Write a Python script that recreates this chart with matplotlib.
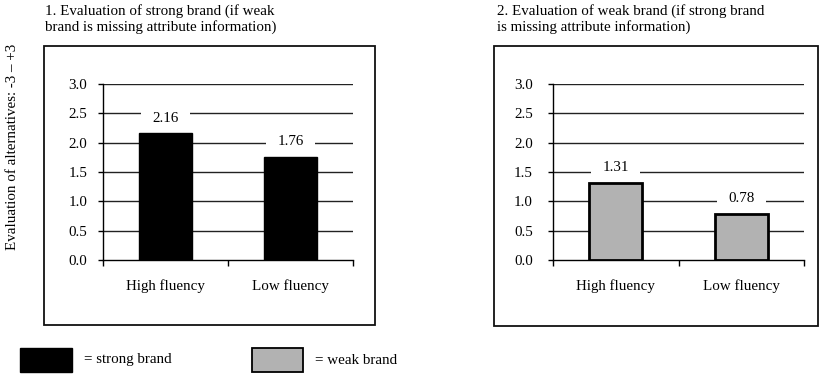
import matplotlib.pyplot as plt
from matplotlib.patches import Rectangle

plt.rcParams['font.family'] = ['Liberation Serif', 'DejaVu Serif']
plt.rcParams['font.size'] = 10.8

# data
categories = ["High fluency", "Low fluency"]
strong_vals = [2.16, 1.76]
weak_vals = [1.31, 0.78]
titles = ["1. Evaluation of strong brand (if weak\nbrand is missing attribute information)",
          "2. Evaluation of weak brand (if strong brand\nis missing attribute information)"]
yticks = [0.0, 0.5, 1.0, 1.5, 2.0, 2.5, 3.0]

W, H = 820, 378
fig = plt.figure(figsize=(W / 100, H / 100), dpi=100)


def px(x0, y0, x1, y1):
    # pixel box (top-left origin) -> figure fraction rect
    return [x0 / W, 1 - y1 / H, (x1 - x0) / W, (y1 - y0) / H]


def frame(x0, y0, x1, y1):
    r = Rectangle((x0 / W, 1 - y1 / H), (x1 - x0) / W, (y1 - y0) / H,
                  transform=fig.transFigure, fill=False, ec='#111111', lw=1.3)
    fig.patches.append(r)


def panel(rect, vals, color, edge_lw, label_pad):
    ax = fig.add_axes(rect)
    x = range(len(vals))
    ax.bar(x, vals, width=0.42, color=color, edgecolor='black', linewidth=edge_lw, zorder=3)
    ax.set_xlim(-0.5, 1.5)
    ax.set_ylim(0, 3.0)
    ax.set_yticks(yticks)
    ax.set_yticklabels([f"{t:.1f}" for t in yticks])
    for t in yticks[1:]:
        ax.axhline(t, color='#222222', lw=1.0, zorder=1)
    ax.set_xticks(list(x))
    ax.set_xticklabels(categories)
    ax.set_xticks([-0.5, 0.5, 1.5], minor=True)
    ax.tick_params(axis='x', which='major', length=0, pad=14)
    ax.tick_params(axis='x', which='minor', length=4, direction='out', width=1)
    ax.tick_params(axis='y', length=3.5, width=1, direction='out', pad=label_pad)
    for s in ['top', 'right']:
        ax.spines[s].set_visible(False)
    ax.spines['left'].set_linewidth(1)
    ax.spines['bottom'].set_linewidth(1)
    # value labels sit on a white box that hides the gridlines but not the bars
    for i, v in enumerate(vals):
        ax.annotate(f"{v:.2f}", (i, v), xytext=(0, 11), textcoords='offset points',
                    ha='center', va='center', zorder=2,
                    bbox=dict(boxstyle='square,pad=0.75', fc='white', ec='none'))
    return ax


# left panel: strong brand
frame(44, 46, 375, 325)
panel(px(103, 84, 353, 260), strong_vals, 'black', 1, 8)
fig.text(45 / W, 1 - 4 / H, titles[0], ha='left', va='top', linespacing=1.15)

# right panel: weak brand
frame(494, 46, 818, 326)
panel(px(553, 84, 804, 260), weak_vals, '#b2b2b2', 2, 11)
fig.text(497 / W, 1 - 4 / H, titles[1], ha='left', va='top', linespacing=1.15)

fig.text(13 / W, 1 - 147 / H, "Evaluation of alternatives: -3 \u2013 +3",
         rotation=90, ha='center', va='center')

# legend
fig.patches.append(Rectangle((20 / W, 1 - 372 / H), 52 / W, 24 / H,
                             transform=fig.transFigure, fc='black', ec='black', lw=1))
fig.text(84 / W, 1 - 360 / H, "= strong brand", ha='left', va='center')
fig.patches.append(Rectangle((252 / W, 1 - 372 / H), 51 / W, 24 / H,
                             transform=fig.transFigure, fc='#b2b2b2', ec='black', lw=1.3))
fig.text(315 / W, 1 - 360 / H, "= weak brand", ha='left', va='center')

fig.savefig("out.png", dpi=100, facecolor='white')
